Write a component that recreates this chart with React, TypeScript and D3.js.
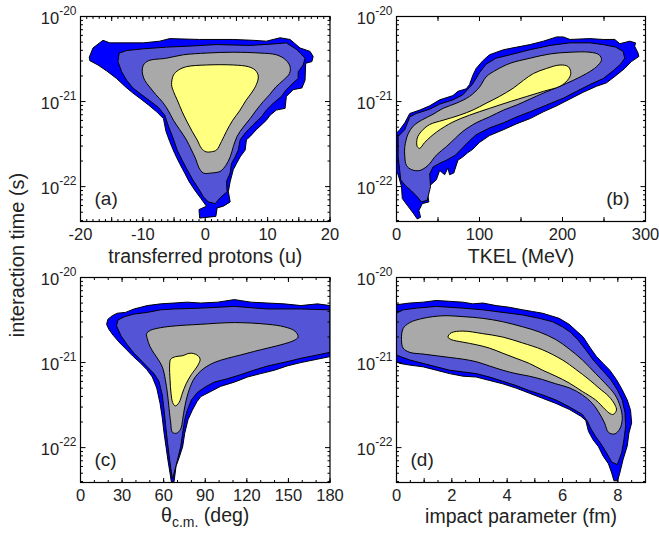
import React from 'react';
import * as d3 from 'd3';

type Pt = [number, number];

// ---------- data: contour polygons [x, log10(time/s)] ----------
// Panel (a): transferred protons
const aOuter: Pt[] = [
  [-18.6, -20.48], [-18.0, -20.37], [-16.4, -20.28], [-15.3, -20.31], [-14.0, -20.31], [-9.9, -20.31],
  [-7.3, -20.29], [-5.7, -20.26], [-0.9, -20.27], [4.5, -20.27], [7.7, -20.28], [9.8, -20.29],
  [12.0, -20.25], [13.6, -20.27], [15.2, -20.37], [16.8, -20.41], [17.3, -20.47], [17.1, -20.53],
  [16.1, -20.55], [16.0, -20.75], [15.5, -20.84], [14.1, -20.86], [13.0, -20.94], [12.8, -21.08],
  [11.4, -21.1], [10.4, -21.16], [9.8, -21.22], [8.2, -21.33], [7.2, -21.41], [6.6, -21.45],
  [6.4, -21.57], [5.6, -21.65], [5.0, -21.73], [4.5, -21.8], [4.0, -21.94], [3.7, -22.06],
  [4.0, -22.18], [2.9, -22.23], [1.9, -22.25], [1.7, -22.35], [-0.9, -22.37], [-1.0, -22.27],
  [0.2, -22.23], [-0.7, -22.14], [-1.7, -22.04], [-2.6, -21.94], [-3.3, -21.84], [-4.1, -21.73],
  [-4.9, -21.61], [-5.7, -21.47], [-6.3, -21.35], [-6.7, -21.2], [-7.8, -21.12], [-9.1, -21.04],
  [-10.5, -20.96], [-11.6, -20.9], [-12.9, -20.82], [-14.2, -20.73], [-15.8, -20.64], [-17.2, -20.57],
  [-18.5, -20.52],
];
const aMid: Pt[] = [
  [-14.0, -20.53], [-13.8, -20.43], [-12.6, -20.4], [-9.9, -20.38], [-6.2, -20.36], [-3.0, -20.35],
  [1.8, -20.33], [7.2, -20.34], [11.4, -20.32], [13.0, -20.31], [14.7, -20.39], [16.0, -20.49],
  [15.7, -20.57], [14.9, -20.65], [14.9, -20.73], [14.1, -20.78], [13.0, -20.86], [12.2, -20.94],
  [10.9, -21.02], [9.8, -21.1], [9.0, -21.18], [7.7, -21.27], [6.4, -21.37], [5.6, -21.45],
  [5.3, -21.57], [4.8, -21.65], [4.2, -21.73], [4.0, -21.84], [3.4, -21.94], [3.5, -22.06],
  [2.4, -22.13], [1.6, -22.2], [0.5, -22.18], [-0.3, -22.12], [-1.1, -22.02], [-2.0, -21.92],
  [-2.9, -21.8], [-3.7, -21.69], [-4.5, -21.57], [-5.2, -21.42], [-5.9, -21.29], [-6.5, -21.16],
  [-7.5, -21.07], [-8.9, -20.99], [-10.2, -20.92], [-11.6, -20.84], [-12.6, -20.75], [-13.4, -20.65],
];
const aGray: Pt[] = [
  [-10.1, -20.65], [-9.9, -20.57], [-9.1, -20.52], [-6.2, -20.49], [-3.5, -20.45], [0.2, -20.43],
  [4.5, -20.42], [8.8, -20.43], [11.4, -20.45], [12.9, -20.51], [13.6, -20.59], [13.5, -20.67],
  [12.5, -20.75], [11.3, -20.83], [10.3, -20.92], [9.3, -21.0], [8.2, -21.1], [7.2, -21.2],
  [6.1, -21.3], [5.1, -21.41], [4.5, -21.53], [4.0, -21.65], [3.3, -21.75], [2.4, -21.82],
  [1.0, -21.84], [-0.3, -21.84], [-1.0, -21.78], [-1.5, -21.68], [-2.2, -21.57], [-3.1, -21.44],
  [-4.1, -21.33], [-5.1, -21.22], [-5.9, -21.11], [-6.8, -21.01], [-7.9, -20.92], [-8.9, -20.83],
  [-9.7, -20.75],
];
const aCore: Pt[] = [
  [-5.4, -20.8], [-5.1, -20.69], [-4.3, -20.63], [-3.0, -20.59], [0.2, -20.57], [4.5, -20.57],
  [6.9, -20.59], [8.0, -20.63], [8.5, -20.7], [8.2, -20.8], [7.4, -20.9], [6.5, -20.99],
  [5.5, -21.11], [4.4, -21.22], [3.4, -21.35], [2.6, -21.47], [1.8, -21.57], [1.0, -21.59],
  [0.1, -21.59], [-0.6, -21.55], [-1.3, -21.45], [-2.1, -21.35], [-2.9, -21.24], [-3.7, -21.12],
  [-4.5, -20.98], [-5.1, -20.88],
];

// Panel (b): TKEL
const bOuter: Pt[] = [
  [0, -21.37], [4, -21.33], [10, -21.25], [16, -21.14], [28, -21.1], [40, -21.05], [52, -20.98],
  [68, -20.93], [74, -20.88], [84, -20.85], [88, -20.8], [92, -20.69], [96, -20.61], [104, -20.52],
  [112, -20.45], [129, -20.39], [145, -20.36], [161, -20.33], [177, -20.29], [193, -20.24],
  [201, -20.24], [209, -20.27], [233, -20.26], [249, -20.27], [263, -20.27], [269, -20.32],
  [281, -20.29], [288, -20.31], [287, -20.35], [291, -20.43], [292, -20.47], [283, -20.53],
  [275, -20.61], [265, -20.69], [253, -20.78], [241, -20.82], [225, -20.89], [209, -20.97],
  [193, -21.05], [177, -21.12], [161, -21.2], [145, -21.26], [129, -21.33], [112, -21.4],
  [100, -21.48], [92, -21.56], [86, -21.6], [80, -21.65], [74, -21.69], [69, -21.84], [64, -21.86],
  [62, -21.78], [58, -21.86], [52, -21.81], [48, -21.92], [40, -21.99], [37, -22.06], [39, -22.18],
  [31, -22.2], [27, -22.28], [29, -22.36], [25, -22.38], [20, -22.31], [13, -22.22], [7, -22.14],
  [6, -22.0], [2, -21.86], [0, -21.84],
];
const bMid: Pt[] = [
  [2, -21.41], [10, -21.33], [16, -21.18], [24, -21.14], [40, -21.09], [52, -21.03], [68, -20.98],
  [80, -20.92], [92, -20.79], [100, -20.66], [108, -20.56], [120, -20.49], [137, -20.45],
  [161, -20.39], [185, -20.34], [209, -20.31], [233, -20.31], [249, -20.33], [264, -20.36],
  [273, -20.41], [275, -20.49], [270, -20.56], [262, -20.63], [249, -20.73], [233, -20.8],
  [217, -20.88], [201, -20.96], [181, -21.04], [161, -21.12], [145, -21.18], [129, -21.25],
  [112, -21.31], [96, -21.39], [88, -21.46], [80, -21.54], [71, -21.63], [60, -21.69], [51, -21.73],
  [44, -21.77], [40, -21.85], [41, -22.0], [37, -22.16], [30, -22.18], [25, -22.12], [18, -22.05],
  [11, -21.99], [5, -21.92], [4, -21.82], [2, -21.65],
];
const bGray: Pt[] = [
  [10, -21.65], [10, -21.53], [14, -21.38], [20, -21.29], [30, -21.22], [44, -21.15], [56, -21.08],
  [72, -21.02], [88, -20.94], [100, -20.83], [108, -20.71], [120, -20.63], [137, -20.55],
  [161, -20.49], [185, -20.44], [209, -20.42], [233, -20.42], [244, -20.45], [247, -20.51],
  [241, -20.59], [229, -20.67], [213, -20.75], [197, -20.82], [177, -20.9], [161, -20.97],
  [145, -21.04], [129, -21.1], [112, -21.18], [96, -21.25], [80, -21.35], [71, -21.43], [60, -21.53],
  [48, -21.63], [38, -21.75], [28, -21.81], [18, -21.8], [12, -21.75],
];
const bCore: Pt[] = [
  [25, -21.53], [25, -21.43], [30, -21.35], [40, -21.27], [56, -21.22], [76, -21.16], [92, -21.1],
  [108, -21.02], [124, -20.94], [141, -20.84], [153, -20.75], [165, -20.67], [181, -20.61],
  [197, -20.57], [207, -20.59], [210, -20.67], [206, -20.75], [197, -20.82], [177, -20.88],
  [157, -20.94], [137, -21.0], [112, -21.08], [88, -21.16], [68, -21.24], [48, -21.36], [34, -21.48],
  [28, -21.55],
];

// Panel (c): theta c.m.
const cOuter: Pt[] = [
  [18.8, -20.55], [19.8, -20.49], [22.9, -20.45], [26.5, -20.42], [32.5, -20.41], [38.6, -20.37],
  [43.4, -20.35], [48.2, -20.33], [57.8, -20.31], [67.5, -20.3], [77, -20.29], [86.8, -20.3],
  [99, -20.29], [111, -20.26], [123, -20.29], [135, -20.3], [147, -20.31], [159, -20.33],
  [171, -20.31], [180, -20.33], [180, -20.93], [171, -20.96], [159, -21.0], [149, -21.04],
  [140, -21.09], [130, -21.13], [120.5, -21.17], [111, -21.23], [101, -21.28], [94, -21.34],
  [86.8, -21.4], [84, -21.46], [80.7, -21.56], [77.6, -21.67], [75.2, -21.83], [73.7, -21.99],
  [71.3, -22.11], [68.9, -22.22], [67.5, -22.4], [65.5, -22.4], [64.6, -22.3], [63.1, -22.15],
  [61.7, -21.99], [60.3, -21.83], [59, -21.65], [57.4, -21.48], [55, -21.3], [51.8, -21.17],
  [47.7, -21.08], [42.9, -21.0], [38.1, -20.93], [33.3, -20.85], [28.4, -20.77], [23.6, -20.68],
  [20.5, -20.61],
];
const cMid: Pt[] = [
  [26, -20.57], [27, -20.5], [31.8, -20.46], [38.6, -20.43], [48.2, -20.41], [57.8, -20.38],
  [67.5, -20.37], [86.8, -20.36], [111, -20.34], [135, -20.37], [159, -20.37], [180, -20.38],
  [180, -20.88], [171, -20.91], [159, -20.95], [149, -20.99], [135, -21.04], [125, -21.09],
  [116, -21.14], [106, -21.19], [96.4, -21.23], [89.7, -21.29], [84.4, -21.35], [80, -21.44],
  [77.1, -21.56], [75.2, -21.67], [73.7, -21.83], [72.3, -21.99], [69.9, -22.15], [67.5, -22.3],
  [66.3, -22.37], [65.1, -22.24], [63.9, -22.09], [62.7, -21.93], [61.5, -21.75], [60.3, -21.56],
  [59, -21.38], [56.6, -21.22], [53, -21.13], [48.2, -21.05], [43.4, -20.97], [38.6, -20.89],
  [33.7, -20.79], [29.4, -20.69],
];
const cGray: Pt[] = [
  [48.2, -20.72], [47.7, -20.66], [50.6, -20.62], [57.8, -20.59], [67.5, -20.57], [86.8, -20.55],
  [111, -20.53], [135, -20.55], [147, -20.58], [154.7, -20.63], [157, -20.7], [154, -20.74],
  [147, -20.78], [135, -20.83], [125, -20.87], [115.7, -20.91], [106, -20.95], [96.4, -21.0],
  [89.7, -21.06], [84.8, -21.13], [81.2, -21.21], [77.6, -21.36], [75.2, -21.52], [73.7, -21.67],
  [72.3, -21.78], [69.4, -21.83], [66.3, -21.82], [65.1, -21.71], [63.9, -21.54], [62.7, -21.36],
  [61.2, -21.2], [59, -21.05], [55.9, -20.96], [53, -20.89], [50.1, -20.81],
];
const cCore: Pt[] = [
  [65.1, -20.96], [68.7, -20.93], [73.5, -20.92], [79, -20.89], [83.9, -20.91], [86.3, -20.96],
  [84.4, -21.04], [80, -21.14], [76.2, -21.25], [73.5, -21.36], [71.1, -21.47], [68.4, -21.51],
  [66.5, -21.47], [65.3, -21.36], [64.6, -21.2], [64.3, -21.04],
];

// Panel (d): impact parameter
const dOuter: Pt[] = [
  [0, -20.32], [0.48, -20.3], [0.96, -20.29], [1.44, -20.27], [1.92, -20.28], [2.4, -20.29],
  [2.76, -20.31], [3.12, -20.3], [3.6, -20.33], [4.08, -20.35], [4.56, -20.38], [4.92, -20.4],
  [5.28, -20.42], [5.58, -20.45], [5.88, -20.48], [6.24, -20.55], [6.51, -20.63], [6.75, -20.7],
  [6.99, -20.82], [7.23, -20.93], [7.47, -21.01], [7.71, -21.09], [7.95, -21.2], [8.16, -21.32],
  [8.34, -21.44], [8.46, -21.56], [8.5, -21.71], [8.4, -21.83], [8.34, -21.98], [8.19, -22.14],
  [8.07, -22.3], [7.99, -22.39], [7.86, -22.39], [7.78, -22.3], [7.66, -22.19], [7.47, -22.1],
  [7.3, -21.99], [7.11, -21.91], [6.94, -21.81], [6.84, -21.68], [6.66, -21.63], [6.24, -21.55],
  [5.76, -21.48], [5.28, -21.42], [4.8, -21.36], [4.32, -21.3], [3.84, -21.25], [3.36, -21.21],
  [2.88, -21.17], [2.4, -21.16], [1.92, -21.13], [1.44, -21.09], [0.96, -21.05], [0.48, -21.03],
  [0.12, -21.01], [0, -20.99],
];
const dMid: Pt[] = [
  [0, -20.42], [0.24, -20.38], [0.72, -20.36], [1.44, -20.34], [2.4, -20.36], [3.12, -20.38],
  [3.84, -20.41], [4.56, -20.44], [5.16, -20.48], [5.64, -20.52], [6.0, -20.58], [6.27, -20.64],
  [6.55, -20.73], [6.84, -20.85], [7.11, -20.97], [7.44, -21.09], [7.74, -21.2], [7.98, -21.32],
  [8.16, -21.44], [8.26, -21.59], [8.28, -21.75], [8.22, -21.91], [8.14, -22.06], [7.98, -22.2],
  [7.78, -22.17], [7.59, -22.06], [7.4, -21.96], [7.2, -21.87], [7.03, -21.78], [6.9, -21.69],
  [6.72, -21.61], [6.24, -21.52], [5.76, -21.44], [5.28, -21.38], [4.8, -21.33], [4.32, -21.27],
  [3.84, -21.22], [3.36, -21.17], [2.88, -21.13], [2.4, -21.11], [1.92, -21.09], [1.44, -21.05],
  [0.96, -21.01], [0.48, -20.97], [0.14, -20.93], [0, -20.91],
];
const dGray: Pt[] = [
  [0.18, -20.73], [0.24, -20.6], [0.48, -20.53], [0.96, -20.48], [1.68, -20.45], [2.4, -20.46],
  [3.12, -20.48], [3.84, -20.52], [4.56, -20.58], [5.16, -20.64], [5.76, -20.73], [6.24, -20.84],
  [6.72, -20.97], [7.2, -21.13], [7.56, -21.25], [7.9, -21.38], [8.09, -21.52], [8.16, -21.66],
  [8.07, -21.78], [7.88, -21.84], [7.66, -21.82], [7.52, -21.71], [7.32, -21.59], [7.08, -21.48],
  [6.72, -21.38], [6.27, -21.3], [5.76, -21.25], [5.28, -21.2], [4.8, -21.16], [4.32, -21.13],
  [3.84, -21.09], [3.36, -21.04], [2.88, -20.99], [2.4, -20.96], [1.92, -20.94], [1.44, -20.92],
  [0.96, -20.9], [0.48, -20.88], [0.24, -20.83],
];
const dCore: Pt[] = [
  [1.86, -20.7], [1.98, -20.65], [2.4, -20.63], [3.12, -20.66], [3.84, -20.7], [4.56, -20.77],
  [5.28, -20.85], [6.0, -20.97], [6.48, -21.08], [6.96, -21.2], [7.32, -21.3], [7.68, -21.4],
  [7.9, -21.5], [7.95, -21.56], [7.83, -21.61], [7.72, -21.6], [7.54, -21.55], [7.2, -21.44],
  [6.72, -21.34], [6.24, -21.24], [5.76, -21.16], [5.28, -21.09], [4.8, -21.01], [4.32, -20.95],
  [3.84, -20.89], [3.36, -20.83], [2.88, -20.79], [2.4, -20.76], [1.98, -20.73],
];

// ---------- axes ----------
const yDecades = [-20, -21, -22];
const yMinExp = -22.41;
const xTicksA = [-20, -10, 0, 10, 20];
const xTicksB = [0, 100, 200, 300];
const xTicksC = [0, 30, 60, 90, 120, 150, 180];
const xTicksD = [0, 2, 4, 6, 8];

const levelColors = ['#0000ff', '#5454d6', '#a9a9a9', '#ffff80'];
const FONT = 'Liberation Sans, Arial, Helvetica, sans-serif';

type Box = { l: number; r: number; t: number; b: number };

interface PanelProps {
  id: string;
  box: Box;
  xDomain: [number, number];
  xTicks: number[];
  xMid: number;
  xMinor: number;
  levels: Pt[][];
  label: string;
  labelRight?: boolean;
  title: React.ReactNode;
  titleOffset: number;
}

function Panel({ id, box, xDomain, xTicks, xMid, xMinor, levels, label, labelRight, title, titleOffset }: PanelProps) {
  const x = d3.scaleLinear().domain(xDomain).range([box.l, box.r]);
  const y = d3.scaleLog().domain([Math.pow(10, yMinExp), 1e-20]).range([box.b, box.t]);
  const yy = (e: number) => y(Math.pow(10, e));
  const line = d3.line<Pt>().x((d) => x(d[0])).y((d) => yy(d[1])).curve(d3.curveLinearClosed);
  const smooth = d3.line<Pt>().x((d) => x(d[0])).y((d) => yy(d[1])).curve(d3.curveCatmullRomClosed.alpha(0.5));

  const eps = 1e-9;
  const minorX = d3.range(xDomain[0], xDomain[1] + eps, xMinor);
  const midX = d3.range(xDomain[0], xDomain[1] + eps, xMid);
  const yMinor: number[] = [];
  for (let d = -23; d <= -21; d++) {
    for (let k = 2; k <= 9; k++) {
      const v = k * Math.pow(10, d);
      if (v >= Math.pow(10, yMinExp) && v <= 1e-20) yMinor.push(v);
    }
  }
  const tickCol = '#000';
  return (
    <g>
      <defs>
        <clipPath id={`clip-${id}`}>
          <rect x={box.l} y={box.t} width={box.r - box.l} height={box.b - box.t} />
        </clipPath>
      </defs>
      <g clipPath={`url(#clip-${id})`}>
        {levels.map((poly, i) => (
          <path
            key={i}
            d={(i >= 2 ? smooth(poly) : line(poly)) || ''}
            fill={levelColors[i]}
            stroke="#000"
            strokeWidth={1}
            strokeLinejoin="round"
          />
        ))}
      </g>
      <g stroke={tickCol} strokeWidth={1}>
        {minorX.map((v, i) => (
          <g key={'mx' + i}>
            <line x1={x(v)} x2={x(v)} y1={box.b} y2={box.b - 2.5} />
            <line x1={x(v)} x2={x(v)} y1={box.t} y2={box.t + 2.5} />
          </g>
        ))}
        {midX.map((v, i) => (
          <g key={'dx' + i}>
            <line x1={x(v)} x2={x(v)} y1={box.b} y2={box.b - 4.5} />
            <line x1={x(v)} x2={x(v)} y1={box.t} y2={box.t + 4.5} />
          </g>
        ))}
        {yMinor.map((v, i) => (
          <g key={'my' + i}>
            <line x1={box.l} x2={box.l + 2.5} y1={y(v)} y2={y(v)} />
            <line x1={box.r} x2={box.r - 2.5} y1={y(v)} y2={y(v)} />
          </g>
        ))}
        {yDecades.map((e, i) => (
          <g key={'My' + i}>
            <line x1={box.l} x2={box.l + 5} y1={yy(e)} y2={yy(e)} />
            <line x1={box.r} x2={box.r - 5} y1={yy(e)} y2={yy(e)} />
          </g>
        ))}
      </g>
      <rect x={box.l} y={box.t} width={box.r - box.l} height={box.b - box.t} fill="none" stroke="#000" strokeWidth={1.2} />
      <g fontFamily={FONT} fill="#222">
        {xTicks.map((v) => (
          <text key={'xl' + v} x={x(v)} y={box.b + 18} fontSize={16.5} textAnchor="middle">
            {v < 0 ? '-' + Math.abs(v) : String(v)}
          </text>
        ))}
        {yDecades.map((e) => (
          <text key={'yl' + e} x={box.l - 4} y={yy(e) + 7} fontSize={16.5} textAnchor="end">
            10
            <tspan dy={-9} fontSize={12}>{String(e)}</tspan>
          </text>
        ))}
        <text
          x={labelRight ? box.r - 16 : box.l + 14}
          y={box.b - 17}
          fontSize={19}
          textAnchor={labelRight ? 'end' : 'start'}
        >
          {label}
        </text>
        <text x={(box.l + box.r) / 2} y={box.b + titleOffset} fontSize={19.5} textAnchor="middle">
          {title}
        </text>
      </g>
    </g>
  );
}

export default function App() {
  const W = 659;
  const H = 533;
  const boxA: Box = { l: 80.5, r: 330, t: 16.5, b: 221.5 };
  const boxB: Box = { l: 396.5, r: 645.5, t: 16.5, b: 221.5 };
  const boxC: Box = { l: 80.5, r: 330, t: 277.5, b: 482.5 };
  const boxD: Box = { l: 396.5, r: 645.5, t: 277.5, b: 482.5 };
  return (
    <svg
      width={W}
      height={H}
      viewBox={`0 0 ${W} ${H}`}
      style={{ position: 'absolute', left: 0, top: 0, background: '#fff' }}
    >
      <rect x={0} y={0} width={W} height={H} fill="#fff" />
      <Panel id="a" box={boxA} xDomain={[-20, 20]} xTicks={xTicksA} xMid={5} xMinor={1}
        levels={[aOuter, aMid, aGray, aCore]} label="(a)" title="transferred protons (u)" titleOffset={41} />
      <Panel id="b" box={boxB} xDomain={[0, 300]} xTicks={xTicksB} xMid={50} xMinor={50}
        levels={[bOuter, bMid, bGray, bCore]} label="(b)" labelRight title="TKEL (MeV)" titleOffset={41} />
      <Panel id="c" box={boxC} xDomain={[0, 180]} xTicks={xTicksC} xMid={30} xMinor={10}
        levels={[cOuter, cMid, cGray, cCore]} label="(c)"
        title={<>θ<tspan dy={5} fontSize={14}>c.m.</tspan><tspan dy={-5}> (deg)</tspan></>} titleOffset={39} />
      <Panel id="d" box={boxD} xDomain={[0, 9]} xTicks={xTicksD} xMid={1} xMinor={0.5}
        levels={[dOuter, dMid, dGray, dCore]} label="(d)" title="impact parameter (fm)" titleOffset={40} />
      <text
        transform="translate(24,255) rotate(-90)"
        fontFamily={FONT}
        fontSize={20}
        fill="#222"
        textAnchor="middle"
      >
        interaction time (s)
      </text>
    </svg>
  );
}
